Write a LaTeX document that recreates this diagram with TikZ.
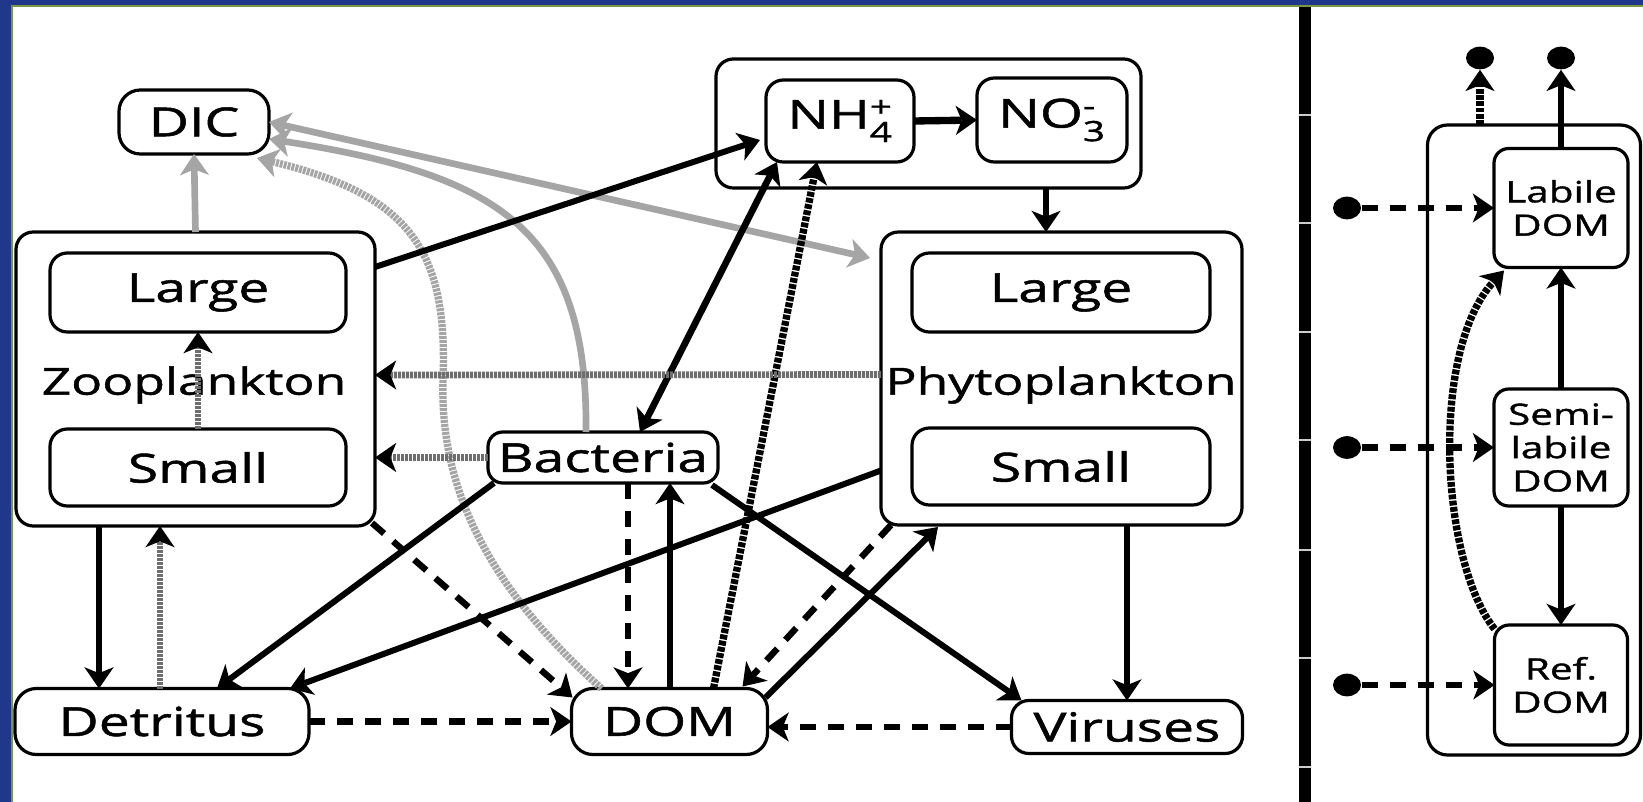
\documentclass[tikz,border=0pt]{standalone}
\usepackage{fontspec}
\usepackage{amsmath}
\setmainfont{Open Sans}
\newfontfamily\widefont[FakeStretch=1.38,FakeBold=1.3]{Open Sans}
\usetikzlibrary{arrows.meta,shapes.geometric,calc}

\definecolor{slideblue}{RGB}{31,56,140}
\definecolor{slidegreen}{RGB}{122,150,62}
\definecolor{carbongray}{RGB}{165,165,165}
\definecolor{grazegray}{RGB}{110,110,110}

\tikzset{every picture/.style={line width=0.75pt}}
\tikzset{
  fluxtip/.tip={Stealth[length=16pt,width=22pt,inset=4.5pt,line width=0pt]},
  pool/.style={draw, line width=2.4pt, rounded corners=13pt, inner sep=0pt, outer sep=0pt},
  box/.style={pool, align=center, font=\widefont\fontsize{30}{34}\selectfont},
  smallbox/.style={pool, align=center, rounded corners=11pt, font=\widefont\fontsize{22}{25}\selectfont},
  label/.style={inner sep=0pt, font=\widefont\fontsize{28}{32}\selectfont},
  sink/.style={ellipse, fill=black, inner sep=0pt, minimum width=21pt, minimum height=17pt},
  head/.style={-{fluxtip[#1]}},
  head/.default={},
  flow/.style={line width=4.5pt, head},
  twoway/.style={line width=5pt, {fluxtip}-{fluxtip}},
  leak/.style={line width=4.8pt, dash pattern=on 12pt off 9pt, head},
  hatch/.style={line width=5.5pt, dash pattern=on 3.6pt off 1.1pt, head},
  grazing/.style={line width=5pt, dash pattern=on 2.2pt off 0.8pt, grazegray, head={black}},
  carbon/.style={line width=5pt, carbongray, head},
  carbonhatch/.style={carbon, line width=5.5pt, dash pattern=on 2.2pt off 0.8pt}
}

\begin{document}
\begin{tikzpicture}[x=0.75pt,y=0.75pt,yscale=-1,xscale=1]
\useasboundingbox (0,0) rectangle (1643,802);

% slide frame
\fill [white] (0,0) rectangle (1643,802);
\fill [slideblue] (0,0) rectangle (11,802);
\fill [slideblue] (0,0) rectangle (1643,5.5);
\fill [slidegreen] (11,5.5) rectangle (12.5,802);
\fill [slidegreen] (11,5.5) rectangle (1643,7);

% divider between the two panels
\fill (1299,7) rectangle (1311,802);
\foreach \yy in {115,223,332,440,550,658,767}
  \draw [white!80!black, line width=1pt] (1299,\yy) -- (1311,\yy);

% nitrogen pool
\node [pool, minimum width=318.75pt, minimum height=96.75pt] (nbox) at (928.5,123.5) {};
\node [box, minimum width=111pt, minimum height=61.5pt] (nh) at (840,121) {NH$_{\text{4}}^{\text{+}}$};
\node [box, minimum width=112.5pt, minimum height=63pt] (no) at (1052,120) {NO$_{\text{3}}^{\text{-}}$};

% carbon
\node [box, minimum width=112.5pt, minimum height=48pt, rounded corners=16pt] (dic) at (194,122) {DIC};

% zooplankton
\node [pool, minimum width=269.25pt, minimum height=220.5pt] (zoo) at (195.5,379) {};
\node [box, minimum width=222pt, minimum height=59.25pt] (zoolarge) at (198,292.5) {Large};
\node [box, minimum width=222pt, minimum height=57.75pt] (zoosmall) at (198,467.5) {Small};
\node [label] (zoolab) at (194,385) {Zooplankton};

% phytoplankton
\node [pool, minimum width=270.75pt, minimum height=219.75pt] (phy) at (1061.5,378.5) {};
\node [box, minimum width=223.5pt, minimum height=59.25pt] (phylarge) at (1061,292.5) {Large};
\node [box, minimum width=223.5pt, minimum height=57.75pt] (physmall) at (1061,466.5) {Small};
\node [label] (phylab) at (1061,385) {Phytoplankton};

% bacteria, detritus, DOM, viruses
\node [box, minimum width=172.5pt, minimum height=38.25pt, rounded corners=11pt] (bac) at (603,457.5) {Bacteria};
\node [box, minimum width=220.5pt, minimum height=49.5pt, rounded corners=16pt] (det) at (162,721.5) {Detritus};
\node [box, minimum width=147pt, minimum height=49.5pt, rounded corners=16pt] (dom) at (669.5,721.5) {DOM};
\node [box, minimum width=173.25pt, minimum height=39.75pt, rounded corners=13pt] (vir) at (1127,727) {Viruses};

% DOM pools (right panel)
\node [pool, minimum width=159.75pt, minimum height=472.5pt, rounded corners=15pt] (dompool) at (1534,440) {};
\node [smallbox, minimum width=100.5pt, minimum height=89.25pt] (lab) at (1561,208) {Labile\\DOM};
\node [smallbox, minimum width=100.5pt, minimum height=87.75pt] (semi) at (1561,447.5) {Semi-\\labile\\DOM};
\node [smallbox, minimum width=99.75pt, minimum height=90pt] (refr) at (1561,685) {Ref.\\DOM};
\node [sink] (outA) at (1480,58) {};
\node [sink] (outB) at (1561,58) {};
\node [sink] (inL) at (1347,208) {};
\node [sink] (inS) at (1347,447.5) {};
\node [sink] (inR) at (1347,685) {};

% carbon fluxes
\draw [carbon] (zoo.north) -- (dic.south);
\draw [carbon] ($(bac.north)+(-17,0)$) .. controls (588,230) and (500,175) .. ($(dic.east)+(0,17)$);
\draw [carbonhatch] ($(dom.north west)+(30,0)$) .. controls (480,580) and (440,480) .. (443,380) .. controls (448,250) and (410,195) .. ($(dic.south east)+(-12,4)$);
\draw [carbon, {fluxtip}-{fluxtip}] (dic.east) -- ($(phy.north west)+(-11,26)$);

% nitrogen fluxes
\draw [flow] ($(zoo.north east)+(0,35)$) -- ($(nh.west)+(-6,19)$);
\draw [twoway] ($(bac.north)+(37,0)$) -- ($(nh.south west)+(11,0)$);
\draw [hatch] ($(dom.north)+(44,0)$) -- ($(nh.south)+(-23,0)$);
\draw [flow, line width=5.5pt] (nh.east) -- (no.west);
\coordinate (nout) at ($(nbox.south east)+(-95,0)$);
\draw [flow] (nout) -- (nout |- phy.north);

% grazing
\draw [grazing] ($(phy.west)+(0,-4)$) -- ($(zoo.east)+(0,-4)$);
\draw [grazing] (bac.west) -- (bac.west -| zoo.east);
\draw [grazing] (zoosmall.north) -- (zoolarge.south);

% zooplankton and detritus
\coordinate (zdown) at ($(zoo.south west)+(83,0)$);
\draw [flow] (zdown) -- (zdown |- det.north);
\coordinate (dup) at ($(det.north west)+(145,0)$);
\draw [grazing] (dup) -- (dup |- zoo.south);
\draw [leak] ($(zoo.south east)+(-3,-3)$) -- ($(dom.north west)+(1,9)$);
\draw [flow] ($(bac.south west)+(6,0)$) -- ($(det.north west)+(202,0)$);
\draw [flow] ($(phy.west)+(0,92)$) -- ($(det.north east)+(-19,0)$);

% bacteria, DOM and viruses
\coordinate (bdown) at ($(bac.south)+(25,0)$);
\draw [leak] (bdown) -- (bdown |- dom.north);
\coordinate (dup2) at ($(dom.north)+(0.5,0)$);
\draw [flow] (dup2) -- (dup2 |- bac.south);
\draw [flow] ($(bac.south east)+(-6,2)$) -- ($(vir.north west)+(10,0)$);
\draw [leak] ($(phy.south west)+(10,0)$) -- ($(dom.north east)+(-25,-2)$);
\draw [flow] ($(dom.north east)+(-2,9)$) -- ($(phy.south west)+(57,2)$);
\coordinate (vdown) at ($(phy.south east)+(-115,0)$);
\draw [flow] (vdown) -- (vdown |- vir.north);
\draw [leak] (det.east) -- (det.east -| dom.west);
\draw [leak] (vir.west) -- (vir.west -| dom.east);

% right panel
\draw [hatch] (outA |- dompool.north) -- (outA);
\draw [flow] (lab.north) -- (outB);
\draw [leak] (inL) -- (lab.west);
\draw [leak] (inS) -- (semi.west);
\draw [leak] (inR) -- (refr.west);
\draw [flow] (semi.north) -- (lab.south);
\draw [flow] (semi.south) -- (refr.north);
\draw [hatch] ($(refr.north west)+(0,4)$) .. controls (1440,560) and (1430,350) .. ($(lab.south west)+(10,3)$);

\end{tikzpicture}
\end{document}
